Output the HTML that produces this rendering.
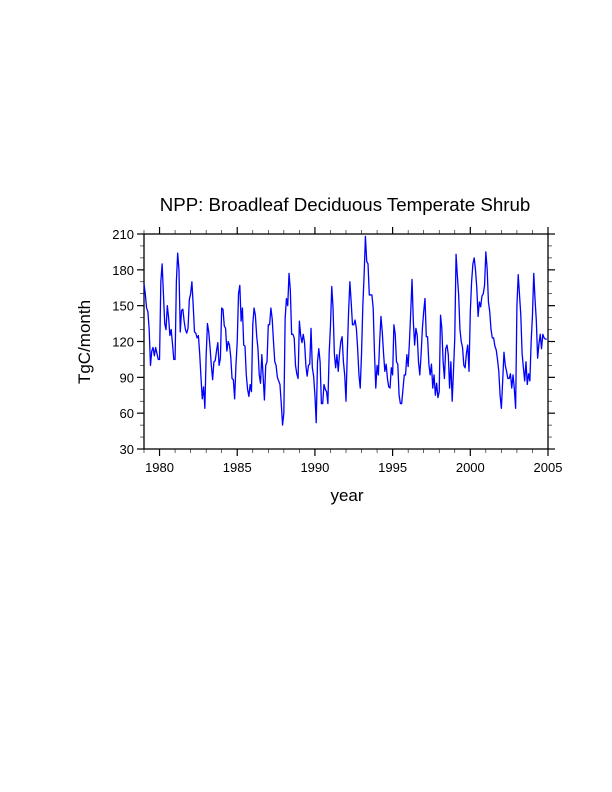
<!DOCTYPE html>
<html><head><meta charset="utf-8"><style>
html,body{margin:0;padding:0;background:#fff;}
svg{display:block;font-family:"Liberation Sans",Arial,sans-serif;}
</style></head><body>
<svg id="chart" width="612" height="792" viewBox="0 0 612 792">
<text x="345" y="211" font-size="18.7" text-anchor="middle">NPP: Broadleaf Deciduous Temperate Shrub</text>
<text x="347" y="501" font-size="17" text-anchor="middle">year</text>
<text transform="translate(90,342) rotate(-90)" font-size="17" text-anchor="middle">TgC/month</text>
<g id="axes"></g>
<path id="series" fill="none" stroke="#0000ff" stroke-width="1.3" stroke-linejoin="round"></path>
</svg>
<script>
const startYear = 1979;
const xTicks = [1980, 1985, 1990, 1995, 2000, 2005];
const yTicks = [30, 60, 90, 120, 150, 180, 210];
const nppValues = [
168,160,148,145,130,100,112,115,108,115,110,105,
105,170,185,160,135,130,150,140,125,130,118,105,
105,170,194,180,128,146,147,137,130,127,131,155,
160,170,150,128,127,123,125,110,90,72,82,64,
108,135,128,115,100,88,103,104,112,119,100,106,
148,147,133,131,112,120,117,107,89,88,72,100,
120,160,167,137,148,117,116,92,80,74,84,78,
134,148,142,125,114,92,85,109,91,71,100,103,
134,134,148,139,120,103,100,90,87,84,68,50,
60,139,156,150,177,163,126,126,123,100,93,89,
137,125,119,126,119,100,91,100,101,131,98,91,
75,52,103,114,103,68,68,84,80,78,68,110,
133,166,148,110,98,109,95,110,120,124,103,92,
70,110,145,170,153,134,134,138,131,114,92,81,
110,150,176,208,187,185,159,159,159,148,110,81,
100,92,120,141,128,110,95,101,89,82,81,98,
92,134,126,103,101,75,68,68,80,92,92,109,
99,120,145,172,137,117,131,125,103,92,109,131,
145,156,124,124,101,92,101,81,92,75,85,73,
78,142,131,103,89,114,117,109,81,103,70,95,
123,193,175,159,130,120,115,100,98,110,117,95,
145,170,185,190,180,165,141,153,149,158,160,167,
195,181,153,145,130,123,123,116,113,105,95,75,
64,87,111,100,95,89,89,93,81,92,80,64,
150,176,159,142,110,98,87,103,84,93,87,120,
142,177,155,137,106,118,126,114,126,123,122,122
];
const X0=144, X1=548, Y0=449, Y1=234;
function xs(t){return X0+(t-1979)*(X1-X0)/(2005-1979);}
function ys(v){return Y0-(v-30)*(Y0-Y1)/(210-30);}
const NS="http://www.w3.org/2000/svg";
const g=document.getElementById('axes');
function line(x1,y1,x2,y2,w,name){
  const l=document.createElementNS(NS,'line');
  l.setAttribute('x1',x1);l.setAttribute('y1',y1);l.setAttribute('x2',x2);l.setAttribute('y2',y2);
  l.setAttribute('stroke','#000');l.setAttribute('stroke-width',w);
  
  
  g.appendChild(l);
}
function text(x,y,s,anchor,name){
  const t=document.createElementNS(NS,'text');
  t.setAttribute('x',x);t.setAttribute('y',y);t.setAttribute('font-size','13');t.setAttribute('text-anchor',anchor);
  t.textContent=s;
  
  
  g.appendChild(t);
}
const frame=document.createElementNS(NS,'rect');
frame.setAttribute('x',X0);frame.setAttribute('y',Y1);frame.setAttribute('width',X1-X0);frame.setAttribute('height',Y0-Y1);
frame.setAttribute('fill','none');frame.setAttribute('stroke','#000');frame.setAttribute('stroke-width','1.3');


g.appendChild(frame);
for(let yr=1979;yr<=2005;yr++){
  const x=xs(yr);
  const major=xTicks.includes(yr);
  const len=major?7:4;
  line(x,Y0,x,Y0+len,major?1.2:0.6,'x-tick');
  line(x,Y1,x,Y1-len,major?1.2:0.6,'x-tick-top');
}
xTicks.forEach(yr=>text(xs(yr),Y0+23,String(yr),'middle','x-tick-label'));
for(let v=30;v<=210;v+=10){
  const y=ys(v);
  const major=yTicks.includes(v);
  const len=major?7:4;
  line(X0,y,X0-len,y,major?1.2:0.6,'y-tick');
  line(X1,y,X1+len,y,major?1.2:0.6,'y-tick-right');
}
yTicks.forEach(v=>text(X0-10,ys(v)+5,String(v),'end','y-tick-label'));
let d='';
nppValues.forEach((v,i)=>{
  const t=startYear+i/12;
  d+=(i?'L':'M')+xs(t).toFixed(2)+' '+ys(v).toFixed(2);
});
document.getElementById('series').setAttribute('d',d);
</script>
</body></html>
